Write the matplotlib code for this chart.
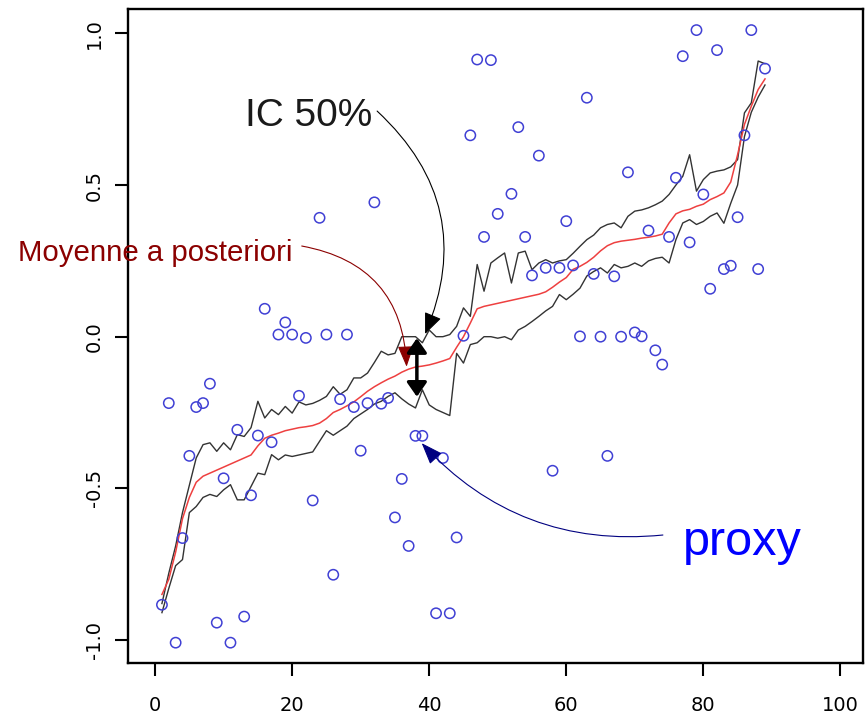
import numpy as np
import matplotlib.pyplot as plt

plt.rcParams['axes.unicode_minus'] = False

# proxy values (blue circles)
proxy_x = [1, 2, 3, 4, 5, 6, 7, 8, 9, 10,
           11, 12, 13, 14, 15, 16, 17, 18, 19, 20,
           21, 22, 23, 24, 25, 26, 27, 28, 29, 30,
           31, 32, 33, 34, 35, 36, 37, 38, 39, 41,
           42, 43, 44, 45, 46, 47, 48, 49, 50, 52,
           53, 54, 55, 56, 57, 58, 59, 60, 61, 62,
           63, 64, 65, 66, 67, 68, 69, 70, 71, 72,
           73, 74, 75, 76, 77, 78, 79, 80, 81, 82,
           83, 84, 85, 86, 87, 88, 89]
proxy_y = [-0.884, -0.219, -1.009, -0.664, -0.393, -0.232, -0.219, -0.155, -0.943, -0.467,
           -1.009, -0.307, -0.923, -0.523, -0.326, 0.092, -0.348, 0.007, 0.047, 0.007,
           -0.195, -0.004, -0.540, 0.392, 0.007, -0.785, -0.206, 0.007, -0.232, -0.376,
           -0.219, 0.443, -0.221, -0.202, -0.596, -0.469, -0.690, -0.327, -0.327, -0.912,
           -0.400, -0.912, -0.662, 0.003, 0.664, 0.914, 0.329, 0.912, 0.405, 0.471,
           0.691, 0.329, 0.202, 0.597, 0.227, -0.442, 0.227, 0.381, 0.235, 0.001,
           0.788, 0.207, 0.000, -0.393, 0.199, 0.000, 0.542, 0.014, 0.001, 0.350,
           -0.045, -0.092, 0.329, 0.524, 0.925, 0.311, 1.011, 0.469, 0.158, 0.945,
           0.223, 0.234, 0.394, 0.664, 1.011, 0.223, 0.884]

# posterior mean and 50% credible interval, t = 1..89
t = np.arange(1, 90)
post_mean = [-0.85, -0.80, -0.71, -0.60, -0.53, -0.48, -0.46, -0.45, -0.44, -0.43,
             -0.42, -0.41, -0.40, -0.39, -0.36, -0.335, -0.325, -0.318, -0.31, -0.305,
             -0.30, -0.297, -0.293, -0.285, -0.27, -0.25, -0.24, -0.228, -0.215, -0.198,
             -0.18, -0.165, -0.152, -0.14, -0.13, -0.117, -0.107, -0.10, -0.097, -0.093,
             -0.087, -0.08, -0.072, -0.035, 0.0, 0.045, 0.092, 0.10, 0.105, 0.11,
             0.115, 0.12, 0.125, 0.13, 0.135, 0.14, 0.148, 0.163, 0.18, 0.195,
             0.222, 0.232, 0.245, 0.262, 0.283, 0.30, 0.31, 0.315, 0.318, 0.321,
             0.325, 0.328, 0.332, 0.338, 0.375, 0.405, 0.415, 0.42, 0.43, 0.437,
             0.452, 0.462, 0.474, 0.51, 0.60, 0.70, 0.76, 0.815, 0.85]
ci_upper = [-0.88, -0.78, -0.69, -0.58, -0.49, -0.40, -0.356, -0.35, -0.378, -0.35,
            -0.373, -0.323, -0.329, -0.30, -0.213, -0.268, -0.24, -0.257, -0.23, -0.252,
            -0.215, -0.225, -0.22, -0.21, -0.197, -0.165, -0.19, -0.175, -0.136, -0.136,
            -0.12, -0.085, -0.048, -0.06, -0.055, 0.0, 0.0, 0.0, -0.02, 0.022,
            0.0, 0.0, 0.007, 0.034, 0.095, 0.067, 0.238, 0.15, 0.243, 0.26,
            0.276, 0.177, 0.276, 0.282, 0.221, 0.243, 0.254, 0.243, 0.25, 0.254,
            0.275, 0.298, 0.32, 0.335, 0.359, 0.37, 0.375, 0.359, 0.397, 0.414,
            0.418, 0.425, 0.435, 0.447, 0.469, 0.50, 0.529, 0.60, 0.48, 0.518,
            0.54, 0.546, 0.55, 0.56, 0.584, 0.738, 0.771, 0.909, 0.90]
ci_lower = [-0.91, -0.83, -0.755, -0.735, -0.58, -0.56, -0.53, -0.52, -0.527, -0.505,
            -0.488, -0.538, -0.538, -0.494, -0.45, -0.455, -0.389, -0.406, -0.39, -0.395,
            -0.39, -0.385, -0.38, -0.345, -0.31, -0.325, -0.31, -0.295, -0.27, -0.255,
            -0.24, -0.222, -0.213, -0.197, -0.185, -0.205, -0.222, -0.235, -0.175, -0.225,
            -0.24, -0.25, -0.26, -0.055, -0.087, -0.026, -0.02, 0.0, 0.0, -0.005,
            0.0, -0.01, 0.022, 0.034, 0.05, 0.067, 0.085, 0.10, 0.139, 0.122,
            0.14, 0.16, 0.20, 0.215, 0.227, 0.21, 0.238, 0.227, 0.232, 0.243,
            0.232, 0.25, 0.258, 0.262, 0.243, 0.32, 0.375, 0.386, 0.37, 0.38,
            0.397, 0.408, 0.374, 0.44, 0.50, 0.66, 0.74, 0.79, 0.83]

x_ticks = [0, 20, 40, 60, 80, 100]
y_ticks = [-1.0, -0.5, 0.0, 0.5, 1.0]
y_ticklabels = ['-1.0', '-0.5', '0.0', '0.5', '1.0']

fig = plt.figure(figsize=(8.65, 7.17), dpi=100)
ax = fig.add_axes([0.1476, 0.0749, 0.8501, 0.9121])

ax.plot(t, ci_upper, color='#333333', lw=1.0)
ax.plot(t, ci_lower, color='#333333', lw=1.0)
ax.plot(t, post_mean, color='#ee4040', lw=1.1)
ax.scatter(proxy_x, proxy_y, s=55, facecolors='none', edgecolors='#4040d4',
           linewidths=1.1, zorder=3)

ax.set_xlim(-4, 103.3)
ax.set_ylim(-1.077, 1.0795)
ax.set_xticks(x_ticks)
ax.set_yticks(y_ticks)
ax.set_yticklabels(y_ticklabels, rotation=90, va='center')
for s in ax.spines.values():
    s.set_linewidth(1.7)
ax.tick_params(direction='out', length=9.4, width=1.5, labelsize=14)
ax.tick_params(axis='x', pad=14)
ax.tick_params(axis='y', pad=8)

# annotations
txt_font = 'Liberation Sans'
ax.text(31.65, 0.695, 'IC 50%', ha='right', va='baseline', fontsize=28,
        color='#1a1a1a', family=txt_font)
ax.annotate('', xy=(39.4, 0.009), xytext=(32.4, 0.744),
            arrowprops=dict(arrowstyle='-|>,head_length=1.3,head_width=0.55',
                            mutation_scale=10, lw=0.8, color='black',
                            shrinkA=0, shrinkB=0,
                            connectionstyle='arc3,rad=-0.35'))

ax.text(19.99, 0.25, 'Moyenne a posteriori', ha='right', va='baseline',
        fontsize=21.2, color='#8b0000', family=txt_font)
ax.annotate('', xy=(36.7, -0.099), xytext=(21.4, 0.299),
            arrowprops=dict(arrowstyle='-|>,head_length=1.3,head_width=0.5',
                            mutation_scale=10, lw=0.8, color='#8b0000',
                            shrinkA=0, shrinkB=0,
                            connectionstyle='arc3,rad=-0.4'))

ax.text(77.0, -0.72, 'proxy', ha='left', va='baseline', fontsize=35,
        color='#0000ff', family=txt_font)
ax.annotate('', xy=(38.9, -0.351), xytext=(74.1, -0.654),
            arrowprops=dict(arrowstyle='-|>,head_length=1.35,head_width=0.5',
                            mutation_scale=10, lw=0.8, color='#000080',
                            shrinkA=0, shrinkB=0,
                            connectionstyle='arc3,rad=-0.25'))

# width of the 50% interval
ax.annotate('', xy=(38.2, -0.005), xytext=(38.2, -0.198),
            arrowprops=dict(arrowstyle='<|-|>,head_length=0.86,head_width=0.6',
                            mutation_scale=10, lw=2.5, color='black',
                            shrinkA=0, shrinkB=0))

fig.savefig('out.png', dpi=100)
